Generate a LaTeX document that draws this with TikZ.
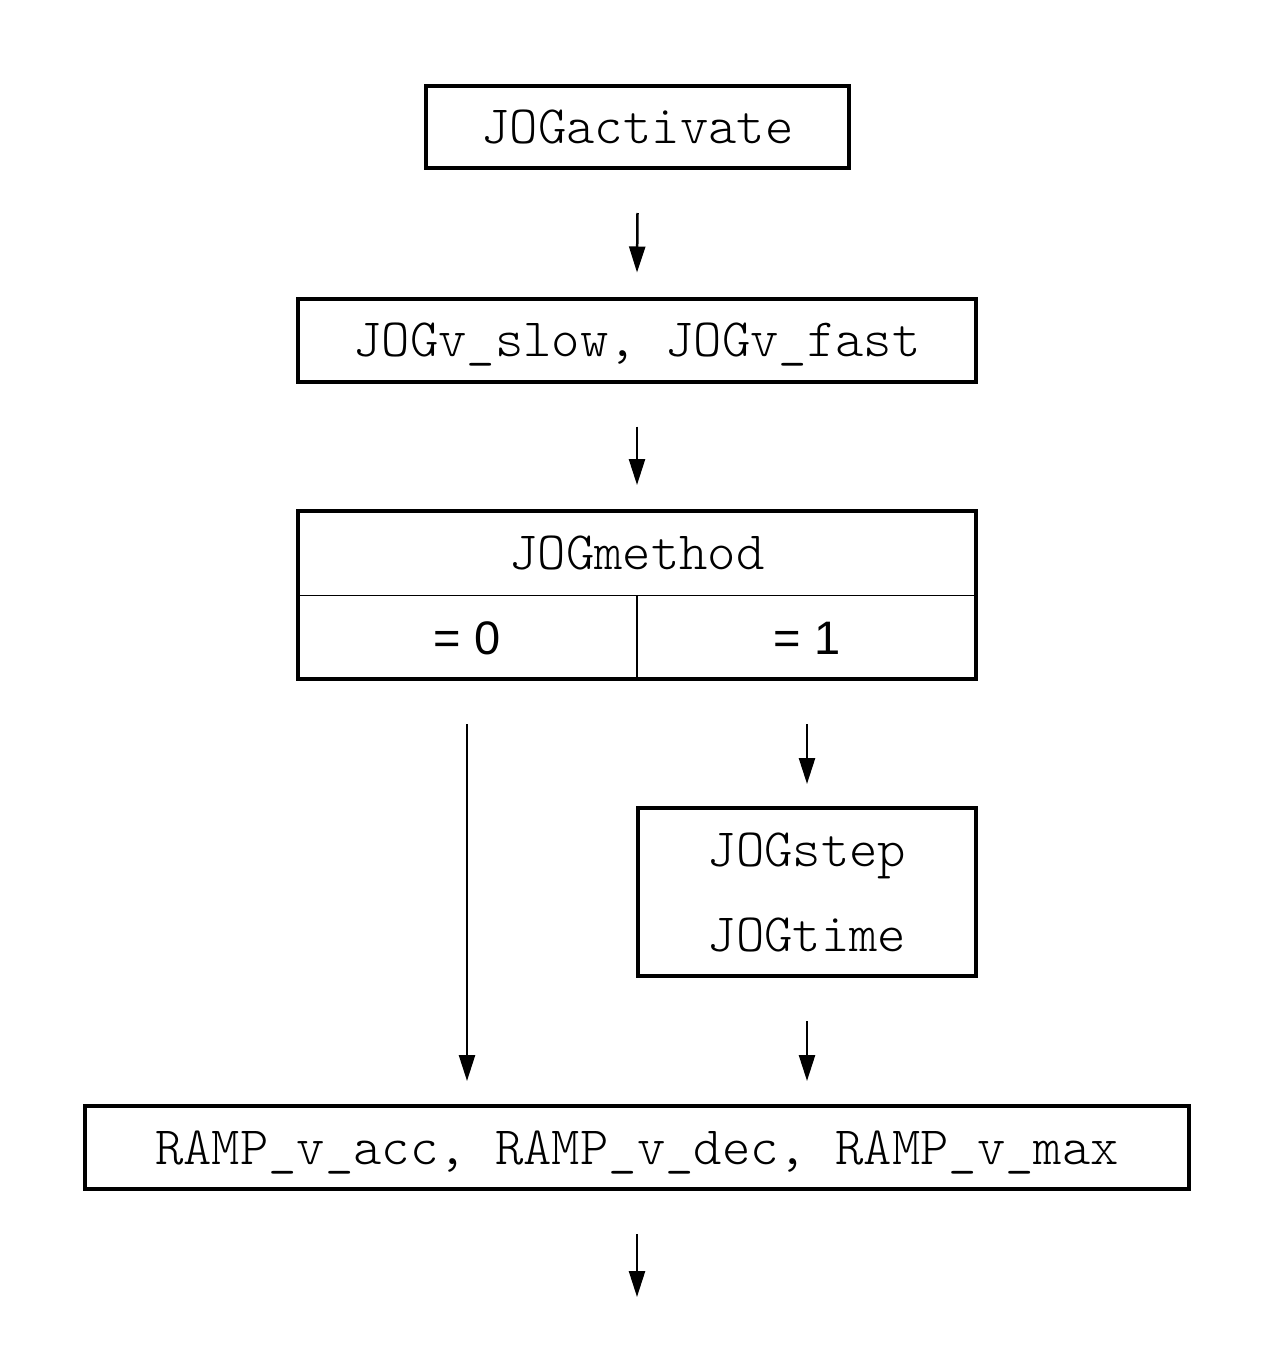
\documentclass[tikz,border=0pt]{standalone}
\usepackage{fontspec}
\setmainfont{Liberation Sans}
\setsansfont{Liberation Sans}
\setmonofont{Latin Modern Mono Light}
\usetikzlibrary{arrows.meta}
\tikzset{
  x=1pt, y=1pt,
  codefont/.style={font=\fontsize{54}{60}\selectfont\ttfamily},
  sansfont/.style={font=\fontsize{47}{56}\selectfont\sffamily},
  box/.style={draw, line width=4pt, rectangle, inner sep=0pt, codefont, text height=42pt, text depth=9pt},
  cell/.style={draw, line width=1.5pt, rectangle, inner sep=0pt, text height=42pt, text depth=9pt},
  plain/.style={inner sep=0pt, codefont, text height=42pt, text depth=9pt},
  arr/.style={line width=2.5pt, -{Triangle[length=26pt,width=16pt]}},
}
\begin{document}
\begin{tikzpicture}
\useasboundingbox (0,0) rectangle (1278,-1362);
\fill[white] (0,0) rectangle (1278,-1362);
\node[box, minimum width=423, minimum height=82] (act) at (637.5,-127) {JOGactivate};
\node[box, minimum width=678, minimum height=83] (speed) at (637,-340) {JOGv\_slow, JOGv\_fast};
\node[cell, codefont, minimum width=680, minimum height=85] (mhead) at (637,-553) {JOGmethod};
\node[cell, sansfont, minimum width=340, minimum height=85] (m0) at (467,-638) {= 0};
\node[cell, sansfont, minimum width=340, minimum height=85] (m1) at (807,-638) {= 1};
\node[draw, line width=4pt, rectangle, inner sep=0pt, minimum width=678, minimum height=168] (method) at (637,-595) {};
\node[draw, line width=4pt, rectangle, inner sep=0pt, minimum width=338, minimum height=168] (stepbox) at (807,-892) {};
\node[plain] (js) at (807,-850) {JOGstep};
\node[plain] (jt) at (807,-935) {JOGtime};
\node[box, minimum width=1104, minimum height=83] (ramp) at (637,-1147.5) {RAMP\_v\_acc, RAMP\_v\_dec, RAMP\_v\_max};
\coordinate (out) at (637,-1297);
\draw[arr] ([yshift=-43pt]act.south) -- ([yshift=24pt]speed.north);
\draw[arr] ([yshift=-43pt]speed.south) -- ([yshift=24pt]method.north);
\draw[arr] ([yshift=-43pt]m0.south) -- ([yshift=23pt]ramp.north -| m0.south);
\draw[arr] ([yshift=-43pt]m1.south) -- ([yshift=22pt]stepbox.north);
\draw[arr] ([yshift=-43pt]stepbox.south) -- ([yshift=23pt]ramp.north -| stepbox.south);
\draw[arr] ([yshift=-43pt]ramp.south) -- (out);
\end{tikzpicture}
\end{document}
